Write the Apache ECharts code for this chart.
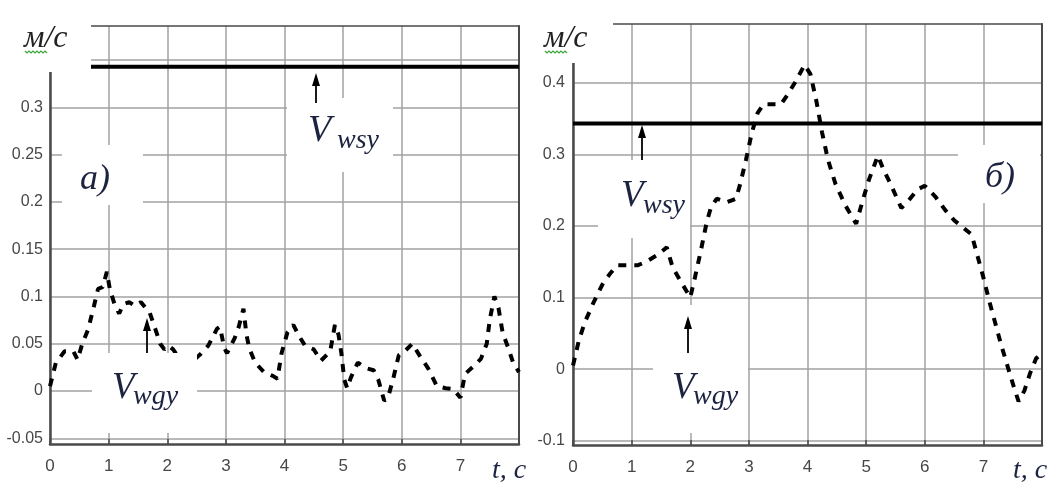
<!DOCTYPE html>
<html><head><meta charset="utf-8">
<script src="https://cdn.jsdelivr.net/npm/echarts@6/dist/echarts.min.js"></script>
<style>html,body{margin:0;padding:0;background:#fff}#c{width:1061px;height:486px}</style>
</head><body><div id="c"></div>
<script>
// ---- data ----
const tLeft = [0.00,0.10,0.25,0.40,0.47,0.55,0.65,0.75,0.82,0.90,0.97,1.02,1.10,1.18,1.25,1.35,1.45,1.55,1.70,1.80,1.88,1.95,2.02,2.10,2.20,2.40,2.55,2.70,2.85,2.90,2.97,3.02,3.15,3.22,3.30,3.35,3.40,3.50,3.65,3.80,3.88,3.95,4.05,4.15,4.25,4.35,4.50,4.62,4.78,4.86,4.92,4.97,5.02,5.07,5.13,5.25,5.40,5.52,5.60,5.70,5.76,5.85,5.95,6.05,6.18,6.30,6.45,6.60,6.75,6.88,7.00,7.08,7.22,7.35,7.45,7.50,7.58,7.65,7.72,7.82,7.90,8.00];
const vLeft = [0.005,0.030,0.042,0.042,0.033,0.050,0.065,0.090,0.108,0.110,0.126,0.108,0.092,0.082,0.092,0.094,0.090,0.094,0.083,0.065,0.050,0.044,0.048,0.044,0.035,0.030,0.038,0.048,0.066,0.068,0.046,0.040,0.056,0.068,0.087,0.060,0.045,0.030,0.020,0.016,0.013,0.040,0.062,0.070,0.058,0.048,0.044,0.032,0.042,0.070,0.060,0.040,0.012,0.003,0.014,0.030,0.024,0.022,0.012,-0.010,-0.008,0.012,0.038,0.042,0.050,0.038,0.024,0.005,0.003,0.002,-0.007,0.018,0.026,0.034,0.050,0.075,0.100,0.088,0.062,0.045,0.030,0.020];
const tRight = [0.00,0.10,0.20,0.35,0.50,0.62,0.75,0.90,1.10,1.25,1.45,1.60,1.70,1.82,2.00,2.08,2.18,2.28,2.35,2.45,2.62,2.78,2.85,2.95,3.05,3.15,3.25,3.40,3.55,3.65,3.80,3.95,4.05,4.15,4.25,4.35,4.48,4.65,4.83,4.95,5.05,5.20,5.30,5.42,5.60,5.72,5.88,6.00,6.18,6.35,6.50,6.65,6.80,6.90,7.00,7.10,7.20,7.30,7.42,7.52,7.60,7.70,7.80,7.90,8.00];
const vRight = [0.005,0.040,0.065,0.093,0.118,0.132,0.145,0.145,0.145,0.150,0.160,0.170,0.142,0.125,0.100,0.128,0.165,0.205,0.225,0.238,0.233,0.238,0.258,0.292,0.330,0.358,0.370,0.370,0.370,0.382,0.402,0.425,0.412,0.375,0.330,0.292,0.258,0.228,0.203,0.238,0.265,0.298,0.278,0.258,0.225,0.235,0.251,0.256,0.241,0.222,0.208,0.198,0.188,0.158,0.128,0.095,0.065,0.035,0.002,-0.025,-0.045,-0.030,-0.005,0.015,0.022];
const vwsyLevel = 0.343;
const xTickLabels = ['0','1','2','3','4','5','6','7'];
const leftYTicks = [-0.05,0,0.05,0.1,0.15,0.2,0.25,0.3,0.35];
const leftYLabels = [-0.05,0,0.05,0.1,0.15,0.2,0.25,0.3];
const rightYTicks = [-0.1,0,0.1,0.2,0.3,0.4];
const rightYLabels = [-0.1,0,0.1,0.2,0.3,0.4];

// ---- chart ----
const GRID = '#a2a2a2', DARK = '#4a4a4a', TXT = '#1c2340', LBL = '#474747';
const fmtY = v => String(Math.round(v * 100) / 100);
function xBottom(g) {
  return { type:'value', gridIndex:g, min:0, max:8, interval:1, position:'bottom',
    axisLine:{show:true,onZero:false,lineStyle:{color:DARK,width:2.5}},
    axisTick:{show:true,inside:true,length:5,lineStyle:{color:DARK,width:1.5}},
    axisLabel:{margin:14,color:LBL,fontSize:17,fontFamily:'Liberation Sans',
      formatter:v => (v < xTickLabels.length ? xTickLabels[v] : '')},
    splitLine:{show:true,lineStyle:{color:GRID,width:1.5}} };
}
function xTop(g) {
  return { type:'value', gridIndex:g, min:0, max:8, position:'top',
    axisLine:{show:true,onZero:false,lineStyle:{color:DARK,width:1.5}},
    axisTick:{show:false}, axisLabel:{show:false}, splitLine:{show:false} };
}
function yLeft(g, min, max, ticks, labels, margin) {
  return { type:'value', gridIndex:g, min:min, max:max, position:'left',
    axisLine:{show:true,onZero:false,lineStyle:{color:DARK,width:2.5}},
    axisTick:{show:false,customValues:ticks},
    axisLabel:{customValues:labels,margin:margin,color:LBL,fontSize:16,fontFamily:'Liberation Sans',formatter:fmtY},
    splitLine:{show:true,lineStyle:{color:GRID,width:1.5}} };
}
function yRight(g, min, max) {
  return { type:'value', gridIndex:g, min:min, max:max, position:'right',
    axisLine:{show:true,onZero:false,lineStyle:{color:DARK,width:2}},
    axisTick:{show:false}, axisLabel:{show:false}, splitLine:{show:false} };
}
const dashStyle = {color:'#000',width:4,type:[8,8],cap:'butt'};
const thickStyle = {color:'#000',width:4};

// annotation graphics
const boxes = [[0,0,91,72],[62,145,81,60],[287,98,106,74],[92,353,105,80],
               [530,0,83,63],[958,145,82,58],[598,160,92,78],[653,305,95,128]];
const graphics = [];
boxes.forEach(b => graphics.push({type:'rect',z:50,shape:{x:b[0],y:b[1],width:b[2],height:b[3]},style:{fill:'#fff'}}));
function txt(s, x, y, size, color) {
  graphics.push({type:'text',z:60,style:{text:s,x:x,y:y,fill:color||TXT,
    font:'italic '+size+'px "Liberation Serif"',textAlign:'left',textVerticalAlign:'middle',align:'left',verticalAlign:'middle'}});
}
function arrow(x, tip, tail) {
  graphics.push({type:'line',z:60,shape:{x1:x,y1:tail,x2:x,y2:tip+8},style:{stroke:'#000',lineWidth:1.8}});
  graphics.push({type:'polygon',z:60,shape:{points:[[x-4,tip+13],[x,tip],[x+4,tip+13]]},style:{fill:'#000'}});
}
function squiggle(x0, x1, y) {
  const pts = []; let k = 0;
  for (let x = x0; x <= x1; x += 2) { pts.push([x, y + (k % 2 ? 2 : 0)]); k++; }
  graphics.push({type:'polyline',z:60,shape:{points:pts},style:{stroke:'#3aa63a',lineWidth:1.2,fill:null}});
}
// left panel
txt('м/с', 24, 39, 32, '#222'); squiggle(25, 47, 51);
txt('V', 308, 131, 38); txt('wsy', 337, 141, 28);
txt('a)', 80, 180, 36);
txt('V', 112, 388, 37); txt('wgy', 133, 397, 28);
txt('t, с', 492, 471, 28);
arrow(316, 73, 103); arrow(147, 318, 353);
// right panel
txt('м/с', 544, 39, 32, '#222'); squiggle(545, 567, 51);
txt('V', 621, 196, 37); txt('wsy', 643, 206, 28);
txt('б)', 985, 178, 36);
txt('V', 672, 388, 37); txt('wgy', 693, 397, 28);
txt('t, с', 1013, 471, 28);
arrow(642, 125, 160); arrow(688, 316, 353);

const option = {
  animation:false, backgroundColor:'#fff',
  grid:[{left:50,top:26,width:469,height:418},{left:573,top:24,width:469,height:421}],
  xAxis:[xBottom(0), xTop(0), xBottom(1), xTop(1)],
  yAxis:[yLeft(0,-0.056,0.386,leftYTicks,leftYLabels,7), yRight(0,-0.056,0.386),
         yLeft(1,-0.106,0.482,rightYTicks,rightYLabels,8), yRight(1,-0.106,0.482)],
  series:[
    {type:'line',xAxisIndex:0,yAxisIndex:0,symbol:'none',z:2,lineStyle:dashStyle,
     data:tLeft.map((t,i)=>[t,vLeft[i]])},
    {type:'line',xAxisIndex:0,yAxisIndex:0,symbol:'none',z:3,lineStyle:thickStyle,
     data:[[0,vwsyLevel],[8,vwsyLevel]]},
    {type:'line',xAxisIndex:2,yAxisIndex:2,symbol:'none',z:2,lineStyle:dashStyle,
     data:tRight.map((t,i)=>[t,vRight[i]])},
    {type:'line',xAxisIndex:2,yAxisIndex:2,symbol:'none',z:3,lineStyle:thickStyle,
     data:[[0,vwsyLevel],[8,vwsyLevel]]}
  ],
  graphic:{elements:graphics}
};
const chart = echarts.init(document.getElementById('c'), null, {renderer:'canvas'});
chart.setOption(option);
</script></body></html>
